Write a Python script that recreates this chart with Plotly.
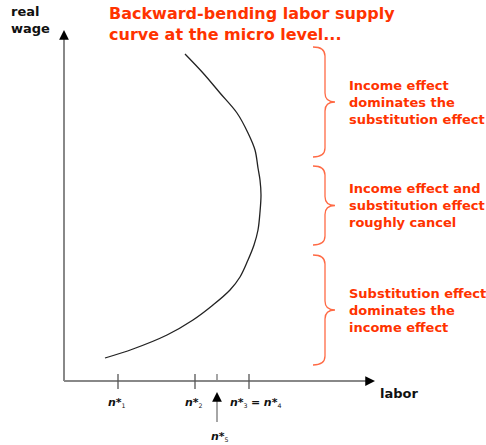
import plotly.graph_objects as go

# ---- data (labor, real wage) for the backward-bending supply curve ----
labor = [41, 69, 103, 129, 149, 166, 176, 184, 190, 194, 196, 197, 196, 194, 191, 184, 173, 156, 139, 121]
wage = [23, 32, 46, 61, 76, 91, 104, 121, 136, 151, 169, 186, 201, 213, 231, 248, 268, 288, 308, 327]

# labor-axis markers
tick_names = ["n*1", "n*2", "n*3 = n*4"]
tick_values = [54, 131, 185]
n5_value = 153

# wage ranges covered by each brace (top, bottom) and the labels
brace_ranges = [(334, 224), (215, 136), (126, 16)]
brace_labels = [
    "Income effect<br>dominates the<br>substitution effect",
    "Income effect and<br>substitution effect<br>roughly cancel",
    "Substitution effect<br>dominates the<br>income effect",
]

title_text = "Backward-bending labor supply<br>curve at the micro level..."
RED = "#FF3300"
BRACE = "#FF6A45"
GRAY = "#888888"
FONT = "DejaVu Sans"

X_MAX, Y_MAX = 311, 351  # axis arrow tips

fig = go.Figure()
fig.add_trace(go.Scatter(x=labor, y=wage, mode="lines",
                         line=dict(color="#222222", width=1.3, shape="spline", smoothing=1.0),
                         hoverinfo="skip", showlegend=False))

shapes = []
ann = []
# axes
shapes.append(dict(type="line", xref="x", yref="y", x0=0, y0=0, x1=0, y1=Y_MAX - 6,
                   line=dict(color=GRAY, width=2)))
shapes.append(dict(type="line", xref="x", yref="y", x0=0, y0=0, x1=X_MAX - 6, y1=0,
                   line=dict(color=GRAY, width=2)))
ann.append(dict(x=0, y=Y_MAX, xref="x", yref="y", ax=0, ay=8, axref="pixel", ayref="pixel",
                showarrow=True, arrowhead=2, arrowsize=1.3, arrowwidth=1.5, arrowcolor="black",
                text="", standoff=0))
ann.append(dict(x=X_MAX, y=0, xref="x", yref="y", ax=-8, ay=0,
                showarrow=True, arrowhead=2, arrowsize=1.3, arrowwidth=1.5, arrowcolor="black",
                text="", standoff=0))

# ticks
for v, name in zip(tick_values, tick_names):
    shapes.append(dict(type="line", xref="x", yref="y", x0=v, x1=v, y0=7, y1=-8,
                       line=dict(color="#555555", width=1.3)))
shapes.append(dict(type="line", xref="x", yref="y", x0=n5_value, x1=n5_value, y0=7, y1=0,
                   line=dict(color=GRAY, width=1.5)))
shapes.append(dict(type="line", xref="x", yref="y", x0=n5_value, x1=n5_value, y0=-16, y1=-41,
                   line=dict(color=GRAY, width=1.5)))
ann.append(dict(x=n5_value, y=-11, xref="x", yref="y", ax=0, ay=8,
                showarrow=True, arrowhead=2, arrowsize=1.3, arrowwidth=1.5, arrowcolor="black",
                text="", standoff=0))


def nlabel(name):
    parts = name.split(" = ")
    out = []
    for p in parts:
        out.append("<b><i>n*</i></b><span style='font-size:9px'><sub>" + p[2:] + "</sub></span>")
    return " <b>=</b> ".join(out)


label_x = [tick_values[0] - 1, tick_values[1] - 1, tick_values[2] + 6]
for lx, name in zip(label_x, tick_names):
    ann.append(dict(x=lx, y=-21, xref="x", yref="y", text=nlabel(name), showarrow=False,
                    xanchor="center", yanchor="middle", font=dict(family=FONT, size=11, color="#111111")))
ann.append(dict(x=n5_value + 3, y=-55, xref="x", yref="y", text=nlabel("n*5"), showarrow=False,
                xanchor="center", yanchor="middle", font=dict(family=FONT, size=11, color="#111111")))

# braces
xl, xs, xt, r = 249, 261, 271, 9
for (top, bot), lab in zip(brace_ranges, brace_labels):
    mid = (top + bot) / 2
    path = (f"M {xl},{top} Q {xs},{top} {xs},{top - r} L {xs},{mid + r} "
            f"Q {xs},{mid} {xt},{mid} Q {xs},{mid} {xs},{mid - r} "
            f"L {xs},{bot + r} Q {xs},{bot} {xl},{bot}")
    shapes.append(dict(type="path", xref="x", yref="y", path=path,
                       line=dict(color=BRACE, width=1.3)))
    ann.append(dict(x=283, y=mid, xref="x", yref="y", text="<b>" + lab + "</b>", showarrow=False,
                    xanchor="left", yanchor="middle", align="left",
                    font=dict(family=FONT, size=13, color=RED)))

# titles and axis names
ann.append(dict(x=43, y=357, xref="x", yref="y", text="<b>" + title_text + "</b>", showarrow=False,
                xanchor="left", yanchor="middle", align="left",
                font=dict(family=FONT, size=16, color=RED)))
ann.append(dict(x=-55, y=361, xref="x", yref="y", text="<b>real<br>wage</b>", showarrow=False,
                xanchor="left", yanchor="middle", align="left",
                font=dict(family=FONT, size=13, color="#111111")))
ann.append(dict(x=314, y=-12, xref="x", yref="y", text="<b>labor</b>", showarrow=False,
                xanchor="left", yanchor="middle", align="left",
                font=dict(family=FONT, size=13, color="#111111")))

fig.update_layout(
    width=486, height=445, margin=dict(l=0, r=0, t=0, b=0),
    paper_bgcolor="white", plot_bgcolor="white",
    xaxis=dict(range=[-64, 422], visible=False, fixedrange=True),
    yaxis=dict(range=[-64, 381], visible=False, fixedrange=True),
    shapes=shapes, annotations=ann, showlegend=False,
)
# remove the browser's default 8px body margin so the figure fills the window
fig.write_html("out.html", config={"displayModeBar": False},
               post_script="document.body.style.margin='0';document.body.style.overflow='hidden';")
